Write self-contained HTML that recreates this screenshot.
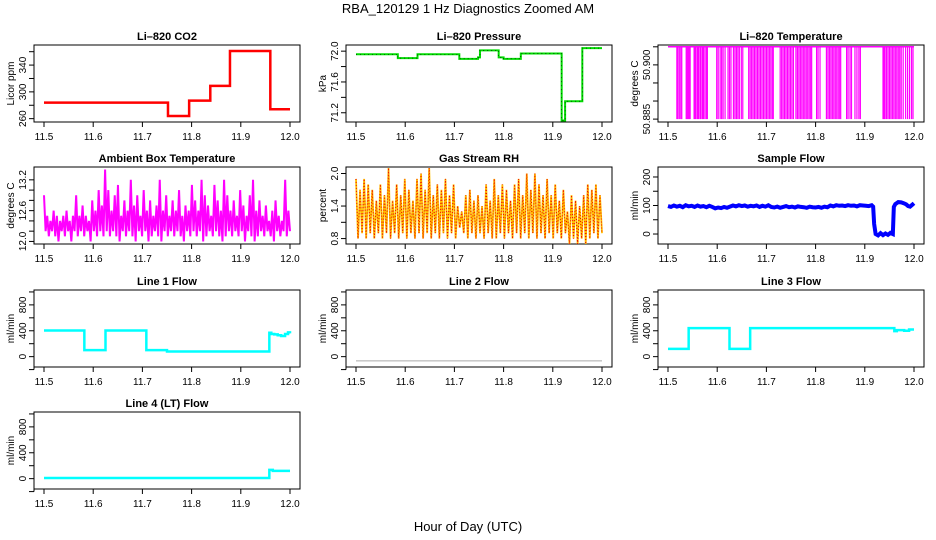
<!DOCTYPE html>
<html><head><meta charset="utf-8"><style>
html,body{margin:0;padding:0;background:#fff;}
svg{display:block;font-family:"Liberation Sans",sans-serif;}
</style></head><body>
<svg id="c" width="936" height="540" viewBox="0 0 936 540">
<text x="468" y="13" text-anchor="middle" font-size="13">RBA_120129  1 Hz Diagnostics Zoomed AM</text>
<text x="468" y="531" text-anchor="middle" font-size="13">Hour of Day (UTC)</text>
</svg>
<script>
const xTicks=[11.5,11.6,11.7,11.8,11.9,12.0];
const xTickLabels=["11.5","11.6","11.7","11.8","11.9","12.0"];
const co2Times=[11.5,11.752,11.795,11.838,11.878,11.96,12.0];
const co2Vals=[284,264,287,309,361,274];
const presTimes=[11.5,11.585,11.625,11.71,11.748,11.752,11.79,11.8,11.835,11.918,11.925,11.96,12.0];
const presVals=[71.96,71.91,71.96,71.90,71.92,72.01,71.92,71.90,71.97,71.10,71.35,72.04];
const tempSpikes=[11.518,11.520,11.523,11.526,11.528,11.537,11.539,11.541,11.543,11.545,11.553,11.555,11.557,11.560,11.562,11.565,11.567,11.570,11.572,11.575,11.578,11.580,11.599,11.602,11.606,11.609,11.612,11.616,11.622,11.625,11.628,11.633,11.636,11.639,11.642,11.645,11.649,11.652,11.664,11.667,11.670,11.673,11.676,11.679,11.682,11.685,11.688,11.691,11.694,11.697,11.700,11.703,11.706,11.709,11.712,11.714,11.728,11.731,11.734,11.737,11.740,11.743,11.746,11.749,11.752,11.755,11.760,11.763,11.766,11.769,11.772,11.775,11.778,11.781,11.784,11.787,11.790,11.792,11.802,11.805,11.809,11.822,11.825,11.828,11.831,11.834,11.837,11.840,11.843,11.846,11.849,11.851,11.863,11.866,11.870,11.873,11.880,11.884,11.888,11.891,11.937,11.939,11.941,11.944,11.947,11.950,11.953,11.956,11.959,11.962,11.965,11.968,11.971,11.974,11.978,11.983,11.987,11.991,11.995,11.998];
const ambientVals=[12.9,12.2,12.5,12.1,12.4,12.2,12.6,12.1,12.5,12.0,12.4,12.2,12.5,12.1,12.6,12.2,12.4,12.0,12.5,12.2,12.9,12.1,12.5,12.2,12.7,12.1,12.5,12.2,12.4,12.0,12.8,12.2,12.6,12.1,13.0,12.2,12.7,12.1,13.4,12.2,13.0,12.1,12.6,12.2,12.9,12.1,13.1,12.0,12.5,12.2,12.8,12.1,12.6,12.2,13.2,12.1,12.7,12.0,12.9,12.2,12.5,12.1,13.0,12.2,12.6,12.0,12.8,12.1,12.5,12.2,12.7,12.1,13.2,12.0,12.6,12.2,12.9,12.1,12.5,12.2,12.8,12.1,12.6,12.2,13.0,12.1,12.5,12.0,12.7,12.2,12.6,12.1,13.1,12.2,12.8,12.1,12.6,12.2,13.2,12.0,12.9,12.1,12.7,12.2,12.5,12.1,13.1,12.2,12.8,12.1,12.6,12.0,13.2,12.1,12.9,12.2,12.6,12.1,12.8,12.2,12.5,12.1,13.0,12.2,12.7,12.0,12.5,12.2,12.9,12.1,13.2,12.0,12.6,12.1,12.8,12.2,12.5,12.1,12.7,12.2,12.4,12.1,12.6,12.0,12.8,12.2,12.5,12.1,12.4,12.2,13.2,12.1,12.6,12.2];
const rhVals=[1.9,0.8,1.7,0.9,1.9,0.8,1.8,0.9,1.7,0.8,1.5,0.9,1.8,0.8,1.6,0.9,2.1,0.8,1.5,0.9,1.8,0.8,1.6,0.9,1.9,0.8,1.7,0.9,1.5,0.8,1.9,0.9,2.0,0.8,1.7,0.9,2.1,0.8,1.6,0.9,1.8,0.8,1.7,0.9,1.9,0.8,1.6,0.9,1.8,0.8,1.4,1.0,1.3,0.9,1.6,0.8,1.7,0.9,1.5,0.8,1.6,0.9,1.4,0.8,1.8,0.9,1.5,0.8,1.9,0.8,1.6,0.9,1.8,0.8,1.7,0.9,1.5,0.8,1.8,0.9,1.9,0.8,1.6,0.9,2.0,0.8,1.7,0.9,2.0,0.8,1.8,0.9,1.6,0.8,1.9,0.9,1.6,0.8,1.8,0.9,1.5,0.8,1.7,0.9,1.3,0.7,1.6,0.8,1.5,0.7,1.4,0.8,1.6,0.7,1.8,0.8,1.7,0.9,1.8,0.8,1.6,0.9];
const sampleVals=[98,95,100,96,99,94,101,97,99,95,100,96,98,94,99,95,90,93,91,95,92,96,100,97,101,98,100,96,99,97,100,95,99,96,101,95,93,96,92,95,98,94,96,93,97,95,94,92,96,94,93,95,92,96,94,100,97,101,99,100,98,101,99,100,97,101,100,99,98,101,96,35,0,-5,3,-4,2,-3,4,0,95,105,112,111,108,104,98,96,102,108];
const sampleTimes=[11.5,11.506,11.512,11.518,11.524,11.53,11.536,11.542,11.548,11.554,11.56,11.566,11.572,11.578,11.584,11.59,11.596,11.602,11.608,11.614,11.62,11.626,11.632,11.638,11.644,11.65,11.656,11.662,11.668,11.674,11.68,11.686,11.692,11.698,11.704,11.71,11.716,11.722,11.728,11.734,11.74,11.746,11.752,11.758,11.764,11.77,11.776,11.782,11.788,11.794,11.8,11.806,11.812,11.818,11.824,11.83,11.836,11.842,11.848,11.854,11.86,11.866,11.872,11.878,11.884,11.89,11.896,11.902,11.908,11.914,11.917,11.919,11.922,11.927,11.932,11.937,11.942,11.947,11.952,11.957,11.959,11.962,11.968,11.974,11.979,11.984,11.988,11.992,11.996,12.0];
const line1Times=[11.5,11.582,11.625,11.708,11.75,11.958,11.962,11.968,11.975,11.982,11.99,11.996,12.0];
const line1Vals=[405,100,405,100,80,370,350,345,330,320,350,375,360];
const line3Times=[11.5,11.542,11.625,11.667,11.96,11.965,11.98,11.99,12.0];
const line3Vals=[120,440,120,440,395,410,400,420,420];
const line4Times=[11.5,11.958,11.965,12.0];
const line4Vals=[10,135,120];
const line2Times=[11.5,12.0];
const line2Vals=[-65];

const svg=document.getElementById('c');
const NS='http://www.w3.org/2000/svg';
function mk(tag,attrs,parent){const e=document.createElementNS(NS,tag);for(const k in attrs)e.setAttribute(k,attrs[k]);(parent||svg).appendChild(e);return e;}
const cols=[[44,290],[356,602],[668,914]];
const rows=[45,167,290,412];
const H=77;
function panel(r,c,title,ylab,ymin,ymax,yTicks,yLabels,name){
  const [a,b]=cols[c];const top=rows[r];const g=mk('g',{});
  
  
  const x=t=>a+(t-11.5)/0.5*(b-a);
  const y=v=>top+H-(v-ymin)/(ymax-ymin)*H;
  const box=mk('rect',{x:a-10,y:top,width:b-a+20,height:H,fill:'none',stroke:'#000','stroke-width':1},g);
  
  
  const t=mk('text',{x:(a+b)/2,y:top-5,'text-anchor':'middle','font-size':11,'font-weight':'bold'},g);t.textContent=title;
  
  
  const yl=mk('text',{transform:`translate(${a-30},${top+H/2}) rotate(-90)`,'text-anchor':'middle','font-size':10},g);yl.textContent=ylab;
  
  
  const bt=top+H;
  mk('line',{x1:x(11.5),x2:x(12),y1:bt,y2:bt,stroke:'#000'},g);
  xTicks.forEach((v,i)=>{mk('line',{x1:x(v),x2:x(v),y1:bt,y2:bt+5,stroke:'#000'},g);
    const l=mk('text',{x:x(v),y:bt+18,'text-anchor':'middle','font-size':10},g);l.textContent=xTickLabels[i];
    
    });
  const ax=a-10;
  mk('line',{x1:ax,x2:ax,y1:y(yTicks[0]),y2:y(yTicks[yTicks.length-1]),stroke:'#000'},g);
  yTicks.forEach((v,i)=>{mk('line',{x1:ax-5,x2:ax,y1:y(v),y2:y(v),stroke:'#000'},g);
    if(yLabels[i]){const l=mk('text',{transform:`translate(${ax-8},${y(v)}) rotate(-90)`,'text-anchor':'middle','font-size':10},g);l.textContent=yLabels[i];
    
    }});
  return {x,y,g};
}
function step(p,times,vals,color,w,name){
  let d=`M${p.x(times[0])},${p.y(vals[0])}`;
  for(let i=1;i<times.length;i++){d+=`H${p.x(times[i])}`;if(i<vals.length)d+=`V${p.y(vals[i])}`;}
  const e=mk('path',{d,fill:'none',stroke:color,'stroke-width':w},p.g);
  
  
  return e;
}
function line(p,times,vals,color,w,name,extra){
  const d=vals.map((v,i)=>(i?'L':'M')+p.x(times[i])+','+p.y(v)).join('');
  const e=mk('path',Object.assign({d,fill:'none',stroke:color,'stroke-width':w},extra||{}),p.g);
  
  
  return e;
}
const even=n=>Array.from({length:n},(_,i)=>11.5+i*0.5/(n-1));

let p=panel(0,0,'Li\u2013820 CO2','Licor ppm',255,370,[260,280,300,320,340,360],['260','','300','','340',''],'co2');
step(p,co2Times,co2Vals,'#f00',2.5,'co2-line');
p=panel(0,1,'Li\u2013820 Pressure','kPa',71.08,72.08,[71.2,71.4,71.6,71.8,72.0],['71.2','','71.6','','72.0'],'pressure');
step(p,presTimes,presVals,'#0d0',2,'pressure-line');
step(p,presTimes,presVals,'#000',0.6,'pressure-points').setAttribute('stroke-dasharray','1,3');
p=panel(0,2,'Li\u2013820 Temperature','degrees C',50.8842,50.9055,[50.885,50.89,50.895,50.9,50.905],['50.885','','','50.900',''],'li-temp');
line(p,[11.5,12.0],[50.905,50.905],'#f0f',1.5,'li-temp-line');
tempSpikes.forEach(t=>{const e=mk('line',{x1:p.x(t),x2:p.x(t),y1:p.y(50.905),y2:p.y(50.885),stroke:'#f0f','stroke-width':1.2},p.g);
  
  });
p=panel(1,0,'Ambient Box Temperature','degrees C',11.95,13.45,[12.0,12.2,12.4,12.6,12.8,13.0,13.2],['12.0','','','12.6','','','13.2'],'ambient');
line(p,even(ambientVals.length),ambientVals,'#f0f',2,'ambient-line');
p=panel(1,1,'Gas Stream RH','percent',0.7,2.12,[0.8,1.1,1.4,1.7,2.0],['0.8','','1.4','','2.0'],'rh');
line(p,even(rhVals.length),rhVals,'#ffc000',1.8,'rh-line');
line(p,even(rhVals.length),rhVals,'#e00',1,'rh-points',{'stroke-dasharray':'1,2'});
p=panel(1,2,'Sample Flow','ml/min',-35,235,[0,50,100,150,200],['0','','100','','200'],'sample-flow');
line(p,sampleTimes,sampleVals,'#00f',4,'sample-flow-line');
p=panel(2,0,'Line 1 Flow','ml/min',-160,1030,[-200,0,200,400,600,800,1000],['','0','','400','','800',''],'line1');
step(p,line1Times,line1Vals,'#0ff',2.5,'line1-line');
p=panel(2,1,'Line 2 Flow','ml/min',-160,1030,[-200,0,200,400,600,800,1000],['','0','','400','','800',''],'line2');
step(p,line2Times,line2Vals,'#aaa',1,'line2-line');
p=panel(2,2,'Line 3 Flow','ml/min',-160,1030,[-200,0,200,400,600,800,1000],['','0','','400','','800',''],'line3');
step(p,line3Times,line3Vals,'#0ff',2.5,'line3-line');
p=panel(3,0,'Line 4 (LT) Flow','ml/min',-160,1030,[-200,0,200,400,600,800,1000],['','0','','400','','800',''],'line4');
step(p,line4Times,line4Vals,'#0ff',2.5,'line4-line');
</script>
</body></html>
